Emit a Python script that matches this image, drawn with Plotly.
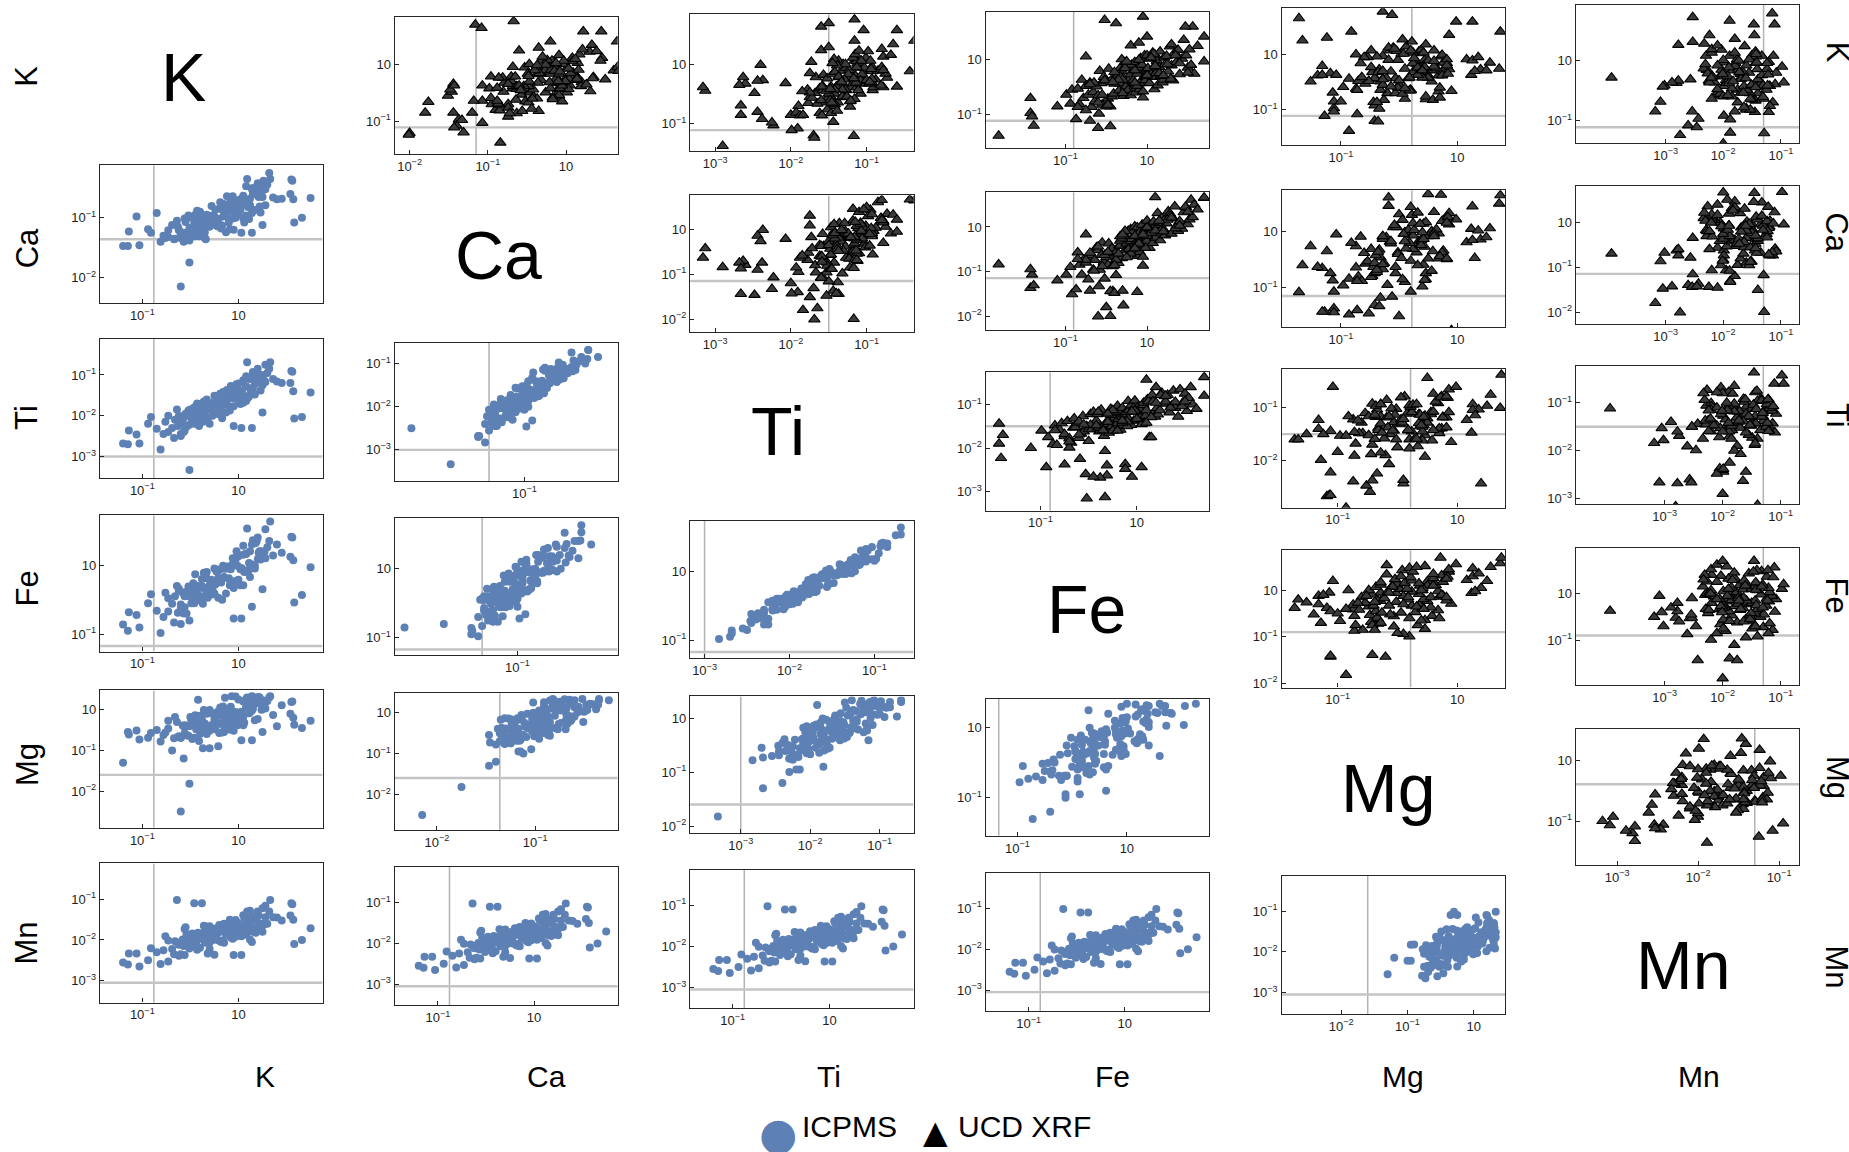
import plotly.graph_objects as go

W, H = 1849, 1152
BLUE = "#5E81B5"
FONT = "Liberation Sans, Arial, Helvetica, sans-serif"

elements = ["K", "Ca", "Ti", "Fe", "Mg", "Mn"]
legend_names = ["ICPMS", "UCD XRF"]

# ---------------- ICPMS samples: log10 concentration (None = not reported) ----------------
icp_K = [
    -1.20, -1.15, -1.14, -1.06, -1.03, -0.94, -0.91, -0.85, -0.81, -0.78,
    -0.76, -0.73, -0.73, -0.69, -0.67, -0.66, -0.63, -0.62, -0.60, -0.60,
    -0.58, -0.56, -0.56, -0.54, -0.52, -0.51, -0.51, -0.49, -0.48, -0.47,
    -0.46, -0.45, -0.44, -0.43, -0.42, -0.41, -0.40, -0.40, -0.38, -0.37,
    -0.36, -0.35, -0.35, -0.33, -0.32, -0.31, -0.30, -0.30, -0.28, -0.27,
    -0.26, -0.25, -0.24, -0.23, -0.22, -0.21, -0.21, -0.19, -0.18, -0.17,
    -0.16, -0.15, -0.15, -0.13, -0.12, -0.12, -0.10, -0.09, -0.08, -0.06,
    -0.06, -0.05, -0.04, -0.03, -0.03, -0.01, 0.00, 0.02, 0.02, 0.03,
    0.03, 0.05, 0.05, 0.06, 0.08, 0.08, 0.09, 0.11, 0.12, 0.12,
    0.14, 0.14, 0.15, 0.17, 0.17, 0.19, 0.20, 0.21, 0.23, 0.24,
    0.25, 0.26, 0.27, 0.28, 0.30, 0.32, 0.33, 0.36, 0.40, 0.45,
    0.55, 0.56, 0.57, 0.58, 0.66, 0.75, -0.60, -0.51, -0.57, 0.54,
    -0.64, -0.46, -0.38, -0.42, -0.14, -0.07, 0.25, 0.14, -0.33, 0.20,
    -0.55, -0.35, -0.15, 0.05, 0.22, -0.45, -0.25, -0.05, 0.12, -0.30,
    -0.50, -0.20, 0.00, 0.18, -0.40, -0.10, 0.08, -0.28, -0.62, 0.28,
    -0.44, -0.16, 0.10, -0.34, -0.02, 0.15, -0.56, -0.22, 0.04, -0.08,
]
icp_Ca = [
    -1.47, -1.47, -1.23, -0.98, -1.46, -1.19, -1.25, -0.92, -1.40, -1.30,
    -1.34, -1.32, -1.21, -1.12, -1.36, -1.35, -1.15, -1.20, -1.28, -1.34,
    -1.30, -1.01, -1.34, -1.26, -0.96, -1.38, -1.17, -1.00, -1.30, -1.24,
    -1.16, -1.31, -1.17, -0.88, -1.16, -1.31, -0.90, -1.27, -1.23, -1.17,
    -0.97, -1.03, -1.34, -1.13, -1.02, -1.13, -1.15, -0.99, -1.02, -0.96,
    -1.03, -0.98, -0.86, -1.02, -1.09, -1.02, -1.04, -0.74, -1.18, -1.13,
    -0.87, -0.87, -0.80, -1.24, -0.91, -0.64, -1.08, -1.19, -0.87, -1.01,
    -0.64, -1.20, -0.96, -0.70, -1.00, -0.86, -0.91, -0.85, -0.87, -1.25,
    -0.68, -0.73, -0.63, -1.08, -0.75, -0.47, -0.35, -1.02, -0.68, -0.82,
    -0.52, -0.92, -0.50, -0.56, -0.87, -0.61, -0.51, -0.65, -0.91, -0.57,
    -0.65, -0.38, -0.48, -0.52, -0.44, -0.25, -0.35, -0.66, -0.69, -0.68,
    -0.36, -0.38, -0.69, -1.08, -1.00, -0.67, -2.15, -1.75, -1.40, -0.60,
    -1.05, -1.10, -0.95, -1.02, -0.85, -0.82, -1.12, -1.25, -0.95, -0.42,
    -1.07, -1.24, -0.77, -1.01, -0.81, -0.95, -1.11, -0.90, -0.79, -1.02,
    -1.17, -0.85, -0.95, -0.60, -1.09, -1.03, -0.96, -0.80, -1.21, -0.79,
    -1.04, -0.98, -0.82, -1.36, -0.74, -0.60, -1.25, -1.14, -0.76, -0.73,
]
icp_Ti = [
    -2.68, -2.70, -2.36, -2.46, -2.68, -2.20, -2.03, -2.32, -2.83, -2.45,
    -2.15, -2.40, -2.00, -2.30, -2.55, -2.10, -2.25, -2.05, -2.45, -2.20,
    -2.12, -2.02, -2.37, -2.27, -1.87, -2.22, -1.97, -2.07, -2.17, -1.82,
    -2.20, -1.95, -2.10, -1.70, -1.90, -2.25, -1.80, -2.05, -1.85, -2.15,
    -1.65, -1.90, -2.10, -1.80, -2.05, -1.85, -2.20, -1.75, -1.70, -2.00,
    -1.91, -1.51, -1.76, -1.71, -1.56, -1.96, -1.81, -1.46, -1.86, -2.06,
    -1.42, -1.72, -1.52, -1.92, -1.62, -1.37, -1.77, -1.87, -1.47, -1.57,
    -1.31, -2.25, -1.41, -1.26, -1.56, -1.51, -1.21, -1.61, -1.71, -2.30,
    -1.38, -1.13, -1.18, -1.58, -1.28, -1.03, -0.69, -1.53, -1.33, -1.48,
    -1.08, -1.33, -0.93, -1.23, -1.48, -1.03, -1.18, -0.98, -1.38, -1.13,
    -1.25, -1.00, -1.15, -0.75, -0.95, -0.85, -0.69, -1.10, -1.16, -1.20,
    -0.90, -0.92, -1.40, -2.07, -2.03, -1.43, -2.50, -3.33, -2.40, -1.20,
    -1.85, -2.00, -1.70, -1.90, -1.50, -1.40, -1.92, -2.30, -1.60, -0.85,
    -1.95, -2.03, -1.57, -1.68, -1.14, -1.78, -1.96, -1.77, -1.10, -1.82,
    -1.85, -1.75, -1.65, -1.10, -2.13, -1.55, -1.64, -1.69, -2.00, -1.17,
    -2.02, -1.59, -1.56, -2.07, -1.23, -1.34, -2.01, -1.73, -1.44, -1.27,
]
icp_Fe = [
    -0.86, -0.95, -0.68, -0.72, -0.90, -0.55, -0.42, -0.66, -0.98, -0.75,
    -0.40, -0.67, -0.48, -0.56, -0.83, -0.45, -0.69, -0.37, -0.62, -0.57,
    -0.40, -0.45, -0.61, -0.70, -0.31, -0.45, -0.44, -0.55, -0.45, -0.26,
    -0.55, -0.29, -0.41, -0.30, -0.31, -0.45, -0.31, -0.51, -0.30, -0.56,
    -0.11, -0.45, -0.45, -0.19, -0.47, -0.32, -0.43, -0.29, -0.30, -0.36,
    -0.42, -0.05, -0.28, -0.09, -0.07, -0.47, -0.19, -0.06, -0.25, -0.50,
    -0.01, -0.17, -0.18, -0.41, -0.05, -0.02, -0.19, -0.29, -0.06, 0.01,
    0.10, -0.77, 0.10, 0.08, -0.23, -0.01, 0.13, -0.06, -0.29, -0.77,
    -0.04, 0.28, 0.15, -0.10, 0.16, 0.17, 0.53, 0.03, 0.01, -0.17,
    0.30, 0.01, 0.36, 0.00, -0.05, 0.35, 0.09, 0.18, 0.08, 0.20,
    0.16, 0.15, 0.19, 0.52, 0.26, 0.35, 0.63, 0.14, 0.30, 0.18,
    0.41, 0.40, 0.07, -0.54, -0.43, -0.03, -0.85, -0.80, -0.70, 0.12,
    -0.30, -0.40, -0.20, -0.35, -0.05, 0.00, -0.35, -0.60, -0.10, 0.40,
    -0.39, -0.34, -0.05, -0.29, 0.20, -0.13, -0.41, -0.33, 0.20, -0.34,
    -0.38, -0.21, -0.21, 0.32, -0.45, -0.20, -0.08, -0.21, -0.34, 0.10,
    -0.47, -0.03, -0.11, -0.43, 0.20, -0.04, -0.43, -0.10, -0.06, -0.03,
]
icp_Mg = [
    -1.30, -0.55, -0.61, -0.51, -0.73, -0.69, -0.57, -0.50, -0.78, -0.62,
    -0.56, -0.46, -0.27, -1.00, -0.70, -0.18, -0.67, -0.65, -0.69, -0.69,
    -0.39, -0.58, -0.39, -0.63, -0.64, -0.40, -0.40, -0.26, -0.72, -0.26,
    -0.69, -0.14, -0.48, -0.19, -0.16, -0.77, -0.35, -0.15, -0.43, -0.95,
    -0.01, -0.46, -0.38, -0.60, -0.45, -0.08, -0.95, -0.52, -0.09, -0.37,
    -0.12, -0.13, -0.48, -0.15, -0.31, -0.35, -0.90, 0.05, -0.14, -0.56,
    0.08, -0.55, -0.08, -0.17, -0.29, -0.09, -0.03, -0.49, -0.35, -0.06,
    -0.21, -0.52, -0.17, 0.32, -0.06, -0.38, 0.25, -0.24, -0.10, -0.75,
    -0.05, 0.20, -0.18, -0.32, 0.26, 0.06, 0.30, -0.09, -0.07, 0.19,
    0.33, -0.02, 0.02, 0.14, -0.26, 0.21, -0.23, 0.31, 0.15, 0.00,
    0.23, 0.08, 0.19, 0.03, 0.21, 0.30, 0.33, -0.13, -0.41, 0.11,
    0.19, 0.20, -0.20, -0.37, -0.45, -0.27, -2.50, -1.82, -1.20, -0.10,
    -0.30, -0.35, -0.25, 0.24, 0.29, 0.33, -0.55, -0.75, -0.10, 0.20,
    -0.39, -0.34, -0.41, -0.38, 0.30, -0.39, -0.25, -0.23, 0.07, -0.01,
    -0.18, -0.57, -0.16, 0.30, -0.60, -0.20, 0.05, -0.38, -0.67, 0.18,
    -0.33, -0.32, 0.09, -0.51, -0.26, 0.13, -0.43, -0.06, -0.28, 0.07,
]
icp_Mn = [
    -2.55, -2.60, -2.33, -2.33, -2.65, -2.50, -2.20, -2.30, -2.59, -2.25,
    -1.91, -2.53, -2.01, -2.22, -2.35, -2.03, -2.07, -2.39, -2.35, -2.06,
    -1.99, -2.01, -2.37, -1.86, -2.06, -2.21, -2.15, -1.97, -1.84, -2.15,
    -1.90, -2.01, -2.10, -2.24, -1.82, -1.94, -1.97, -2.19, -1.87, -1.83,
    -1.65, -2.07, -1.93, -1.90, -2.33, -1.79, -2.22, -1.66, -1.93, -2.00,
    -1.87, -1.82, -1.72, -1.94, -1.83, -1.72, -1.82, -2.03, -2.05, -2.02,
    -1.78, -1.70, -1.60, -1.86, -1.80, -1.78, -1.87, -1.50, -1.94, -1.97,
    -1.70, -2.37, -1.81, -1.92, -1.51, -1.63, -1.58, -1.84, -1.83, -2.37,
    -1.91, -1.39, -1.67, -1.44, -1.43, -1.87, -1.30, -1.56, -1.58, -1.99,
    -1.52, -1.46, -1.42, -1.71, -1.48, -1.52, -1.68, -1.40, -1.60, -1.75,
    -1.22, -1.62, -1.61, -1.16, -1.60, -1.30, -1.02, -1.44, -1.45, -1.52,
    -1.10, -1.12, -1.50, -2.10, -2.00, -1.71, None, None, -2.15, -1.40,
    -1.02, -1.10, -1.10, -1.90, -1.70, -1.65, -1.80, -2.05, -1.75, -1.30,
    -1.69, -2.00, -2.07, -1.62, -1.73, -1.89, -2.36, -1.61, -1.28, -2.06,
    -2.02, -1.63, -1.79, -1.82, -1.86, -1.59, -1.71, -2.00, -2.12, -1.44,
    -2.02, -2.01, -1.72, -1.67, -1.67, -1.80, -1.73, -2.00, -1.80, -1.68,
]

# ---------------- UCD XRF samples: log10 concentration (None = not reported) ----------------
xrf_K = [
    -1.38, -0.97, -1.03, -1.20, -0.70, -0.85, -0.64, -0.80, -0.55, -1.08,
    -0.53, -0.81, -0.37, -0.70, 0.05, -0.48, -0.64, -0.42, -0.86, -0.59,
    -0.76, -0.49, -0.65, -0.21, -0.43, -0.82, -0.32, 0.71, -0.38, -0.71,
    -0.17, -1.21, -0.67, -0.34, -0.62, -0.40, 0.65, -0.29, -0.23, -0.56,
    -0.44, -0.16, -0.21, -0.66, -0.33, -0.05, -0.49, -0.60, -0.38, -0.55,
    -0.16, -0.65, -0.27, -0.10, -0.43, -0.38, -0.05, -0.49, -0.60, -0.21,
    -0.26, -0.15, -0.54, -0.43, 0.02, -0.37, -0.10, 0.77, -0.32, 0.07,
    -0.38, 0.07, -0.21, -0.16, 0.01, -0.43, -0.27, 0.12, -0.32, -0.54,
    0.08, -0.25, -0.03, -0.47, -0.14, 0.14, -0.31, -0.42, 0.03, -0.09,
    0.06, -0.22, 0.23, -0.11, -0.38, 0.12, -0.05, 0.17, -0.27, 0.01,
    0.35, 0.07, -0.15, 0.18, -0.10, 0.59, -0.26, 0.24, 0.41, -0.04,
    -0.38, -0.34, -0.69, -0.85, 0.00, -0.48, -0.92, -0.98, 0.59, -0.31,
    -1.11, -1.24, -0.85, -0.44, -0.37, 0.25, 0.30, 0.41, -0.11, -0.37,
    -0.42, -0.82, -0.37, -0.16, -0.42, -0.30, 0.10, -0.30, -0.35, 0.07,
    -0.86, -0.01, -0.09, -0.41, 0.03, -0.78, -0.07, -0.04, -0.25, -0.58,
    -0.61, -0.12, -0.64, 0.27, -0.20, -0.24, -0.23, -0.29, -0.45, -0.29,
]
xrf_Ca = [
    -0.84, -1.37, -1.07, -1.31, -0.95, -1.20, -1.07, -0.90, -1.51, -1.40,
    -0.57, -0.85, -1.07, -0.74, -0.17, -0.80, -1.18, -0.68, -0.63, -0.96,
    -0.74, -0.46, -0.52, -0.96, -0.63, -0.35, -0.79, -1.16, -0.68, -0.85,
    -0.37, -2.00, -0.48, -1.44, -0.64, -0.59, -1.08, -0.70, -0.81, -0.42,
    -0.42, -0.31, -0.70, -1.76, -0.15, -0.53, -0.26, -0.37, -0.48, -0.09,
    -0.49, -0.05, -0.32, -0.27, -0.10, -0.54, -0.38, 0.01, -0.43, -0.65,
    -0.01, -0.34, -0.12, -0.56, -0.23, 0.05, -0.40, -0.67, -0.07, -0.18,
    -0.03, -0.31, 0.14, -0.20, -0.47, 0.03, -0.14, 0.08, -0.36, -0.09,
    -0.24, 0.04, -0.13, 0.31, 0.09, -0.30, 0.20, -0.08, 0.15, -0.19,
    0.08, 0.35, 0.30, -0.15, 0.19, 0.46, 0.02, -0.09, 0.13, -0.04,
    0.33, 0.44, 0.06, 0.17, 0.61, 0.22, 0.50, 0.39, 0.65, 0.66,
    -0.63, -0.74, -0.87, -1.44, -0.26, -1.46, -0.74, -1.33, 0.45, -0.21,
    -1.43, -2.01, -1.80, -1.48, -1.43, -0.60, -0.35, -0.20, 0.67, -0.05,
    -0.98, -0.56, -0.60, -0.09, -0.20, -0.47, 0.12, -0.08, 0.26, -0.03,
    -0.72, -0.37, 0.16, -0.88, -0.13, -0.44, 0.03, -0.68, 0.14, -0.17,
    -0.17, -0.08, -0.88, 0.21, -0.48, 0.34, -0.86, -0.01, -0.58, -0.10,
]
xrf_Ti = [
    -2.90, -1.44, -2.23, -1.70, -1.90, -2.00, -1.60, -2.44, -1.75, -1.91,
    -1.48, -1.93, -1.58, -1.43, -1.73, -1.68, -1.38, -1.78, -1.88, -1.53,
    -1.52, -1.42, -1.77, -1.67, -1.27, -1.62, -2.60, -1.50, -1.57, -1.22,
    -1.57, -1.17, -1.42, -1.37, -1.22, -1.62, -1.60, -1.12, -1.52, -1.72,
    -3.13, -1.45, -2.63, -1.65, -1.35, -1.10, -1.50, -1.60, -1.20, -1.30,
    -1.18, -1.43, -1.03, -1.33, -1.58, -1.13, -1.28, -1.08, -1.48, -1.23,
    -2.37, -1.17, -1.32, -0.92, -1.12, -1.47, -1.02, -1.16, -1.07, -1.37,
    -0.91, -1.16, -1.36, -1.06, -1.31, -1.11, -2.44, -1.01, -0.96, -1.26,
    -1.13, -0.88, -0.93, -1.75, -1.75, -0.78, -1.18, -1.28, -1.08, -1.23,
    -1.13, -0.73, -0.98, -0.93, -0.78, -1.18, -1.03, -0.68, -1.08, -1.28,
    -0.65, -0.95, -0.75, -1.15, -0.85, -0.60, -1.00, -1.10, -0.37, -0.80,
    -3.16, -2.68, -2.66, -2.66, -2.40, -2.48, -2.38, -2.25, -1.04, -2.07,
    -1.99, -1.69, -1.84, -1.53, -1.40, -1.60, -1.50, -1.16, -0.43, -0.60,
    -1.32, -1.47, -1.59, -1.24, -1.42, -1.14, -1.43, -0.93, -0.81, -1.07,
    -1.59, -1.39, -0.78, -1.48, -1.45, -1.39, -0.94, -1.13, -1.29, -1.16,
    -1.21, -1.42, -1.46, -0.80, -1.37, -0.93, -1.17, -1.33, -1.85, -0.96,
]
xrf_Fe = [
    -1.82, -1.43, -1.41, -1.39, -1.43, -1.10, -0.99, -0.94, -0.92, -0.87,
    -0.85, -0.83, -0.80, -0.78, -0.75, -0.75, -0.72, -0.70, -0.68, -0.66,
    -0.64, -0.62, -0.60, -0.58, -0.56, -0.55, -0.53, -0.52, -0.50, -0.48,
    -0.47, -0.45, -0.43, -0.42, -0.41, -0.39, -0.38, -0.37, -0.35, -0.34,
    -0.33, -0.33, -0.31, -0.29, -0.29, -0.27, -0.26, -0.25, -0.23, -0.23,
    -0.22, -0.20, -0.20, -0.19, -0.17, -0.17, -0.15, -0.15, -0.14, -0.12,
    -0.12, -0.11, -0.09, -0.09, -0.08, -0.06, -0.06, -0.05, -0.03, -0.03,
    -0.02, 0.00, 0.00, 0.01, 0.03, 0.03, 0.05, 0.07, 0.07, 0.09,
    0.10, 0.11, 0.12, 0.13, 0.15, 0.16, 0.18, 0.19, 0.21, 0.22,
    0.24, 0.26, 0.28, 0.30, 0.32, 0.34, 0.36, 0.38, 0.40, 0.43,
    0.45, 0.48, 0.50, 0.52, 0.54, 0.56, 0.58, 0.62, 0.70, 0.70,
    -0.52, -0.38, -0.05, -0.45, -0.31, -0.12, -0.75, -0.59, 0.47, -0.33,
    -0.70, -0.60, -0.50, -0.40, -0.30, -0.20, -0.10, 0.00, 0.10, 0.20,
    -0.65, -0.48, -0.35, -0.27, -0.15, -0.02, 0.08, 0.17, 0.29, 0.35,
    -0.85, -0.10, 0.25, -0.42, 0.05, -0.60, 0.40, -0.25, 0.15, -0.05,
    -0.30, 0.10, -0.55, 0.30, -0.15, 0.50, -0.40, 0.00, -0.70, 0.20,
]
xrf_Mg = [
    -0.93, -1.06, -1.06, -0.71, -0.60, None, -0.40, -0.45, -0.50, -0.86,
    -0.79, -0.27, None, -0.53, -0.33, -0.85, -0.66, None, -0.72, -0.98,
    -0.27, -0.66, -0.40, None, -0.53, -0.21, -0.73, -0.56, None, -0.47,
    -0.35, -0.68, -0.16, None, -0.87, -0.29, -1.36, -0.22, -0.74, None,
    -0.70, -0.38, None, -0.05, -0.31, -0.77, -1.26, -0.51, -0.25, -0.64,
    -0.09, -0.41, -0.67, -0.28, -0.61, None, -0.80, -0.22, -0.15, -1.16,
    -0.45, -0.12, None, -0.71, -0.32, 0.12, -0.51, -0.64, -0.38, -0.58,
    -0.16, -0.74, -0.29, None, -0.48, -0.42, 0.20, -0.55, -0.68, None,
    -0.31, -0.18, -0.64, -0.50, None, -0.44, -0.12, -0.25, -0.38, 0.08,
    -0.52, -0.20, -0.39, 0.13, -0.13, -0.59, 0.18, None, -0.07, -0.46,
    -0.07, -0.40, 0.28, -0.27, -0.59, -0.01, 0.36, None, 0.37, -0.14,
    -1.20, -1.09, -1.07, -1.06, -0.87, -0.76, -0.71, -0.67, 0.13, -0.57,
    -1.14, None, -1.00, -0.93, -1.16, -1.33, -1.12, -0.91, -0.25, -1.04,
    -0.30, -0.63, -0.34, -0.83, -0.41, 0.15, -0.54, -0.64, -0.08, -0.20,
    -0.69, -0.13, -0.09, -0.82, -0.29, -0.15, -0.37, -0.69, -0.32, -0.57,
    -0.45, -0.20, -0.86, -0.47, -0.09, -0.34, -0.28, -0.30, -0.64, 0.25,
]
xrf_Mn = [
    -2.00, -2.43, None, -1.88, -1.75, -1.80, -2.20, -1.60, -1.40, -2.61,
    -2.10, None, -1.95, -1.14, -1.49, None, -1.30, -3.02, -1.45, -2.04,
    -1.19, -1.75, None, -1.55, -1.99, -1.60, -2.57, -2.53, -1.35, None,
    -1.84, -1.29, -1.44, -2.25, None, -1.10, -1.89, -3.94, -1.70, -2.06,
    -1.40, -2.29, -1.65, None, -1.95, -1.79, -1.25, -2.00, None, -1.54,
    -1.74, -1.50, -2.19, None, -1.20, -1.94, -1.44, -1.59, -1.85, -1.08,
    -2.05, -1.24, -1.69, -1.64, None, -2.15, -1.80, -1.15, -1.90, -2.30,
    -1.34, -1.89, None, -2.28, -1.76, -1.19, -1.99, -2.20, -1.40, -1.65,
    -1.50, None, -1.21, -1.85, -2.34, -1.44, -1.71, -1.31, None, -1.60,
    -1.43, -2.27, -1.63, None, -1.90, -1.80, -1.24, -2.03, -2.19, -1.55,
    -1.80, -1.33, -1.41, -2.20, None, -1.11, -1.93, -2.10, -1.46, -2.00,
    -2.81, -2.78, -3.09, -2.54, -2.00, -2.10, -1.99, -1.88, -1.47, -1.69,
    -2.46, -2.75, -3.18, -3.05, -2.89, -2.78, -2.53, -2.24, -0.98, -0.95,
    None, -1.53, -2.24, -2.03, -1.23, None, -1.43, -1.61, -1.83, -1.13,
    -1.21, -1.73, -2.10, -1.51, None, -1.64, -2.31, -1.42, -1.33, -1.92,
    -1.31, -1.90, -1.53, -2.33, -1.72, -1.22, -2.01, -2.21, -1.44, None,
]

# detection limits (log10), drawn as grey reference lines
icp_lod = {"K": -0.88, "Ca": -1.36, "Ti": -3.00, "Fe": -1.17, "Mg": -1.60, "Mn": -3.05}
xrf_lod = {"K": -1.11, "Ca": -1.15, "Ti": -1.50, "Fe": -0.90, "Mg": -0.39, "Mn": -1.30}

icp = {"K": icp_K, "Ca": icp_Ca, "Ti": icp_Ti, "Fe": icp_Fe, "Mg": icp_Mg, "Mn": icp_Mn}
xrf = {"K": xrf_K, "Ca": xrf_Ca, "Ti": xrf_Ti, "Fe": xrf_Fe, "Mg": xrf_Mg, "Mn": xrf_Mn}

# ---------------- layout of the matrix (pixels) ----------------
col_px = {"K": (100.0, 322.6), "Ca": (394.7, 617.7), "Ti": (690.1, 913.6),
          "Fe": (985.6, 1209.0), "Mg": (1281.5, 1505.0), "Mn": (1575.8, 1799.3)}

# (row element, column element, method, element on x, top px, bottom px,
#  x range (log10), y range (log10), x tick exponents, y tick exponents)
# NB: in the original the first four Mn-row panels all show K on the x axis.
panels = [
    ("Ca", "K", "icp", "K", 165.7, 304.0, [-1.44, 0.875], [-2.43, -0.12], [-1, 0], [-2, -1]),
    ("Ti", "K", "icp", "K", 340.0, 479.3, [-1.44, 0.875], [-3.53, -0.12], [-1, 0], [-3, -2, -1]),
    ("Fe", "K", "icp", "K", 516.7, 653.3, [-1.44, 0.875], [-1.25, 0.72], [-1, 0], [-1, 0]),
    ("Mg", "K", "icp", "K", 692.3, 830.0, [-1.44, 0.875], [-2.90, 0.47], [-1, 0], [-2, -1, 0]),
    ("Mn", "K", "icp", "K", 865.7, 1005.3, [-1.44, 0.875], [-3.54, -0.12], [-1, 0], [-3, -2, -1]),
    ("Ti", "Ca", "icp", "Ca", 344.0, 482.3, [-2.32, -0.05], [-3.72, -0.53], [-1], [-3, -2, -1]),
    ("Fe", "Ca", "icp", "Ca", 519.0, 656.7, [-2.25, 0.02], [-1.25, 0.74], [-1], [-1, 0]),
    ("Mg", "Ca", "icp", "Ca", 695.0, 832.3, [-2.43, -0.16], [-2.87, 0.47], [-2, -1], [-2, -1, 0]),
    ("Mn", "Ca", "icp", "K", 869.0, 1008.0, [-1.45, 0.87], [-3.52, -0.12], [-1, 0], [-3, -2, -1]),
    ("Fe", "Ti", "icp", "Ti", 522.0, 660.0, [-3.17, -0.54], [-1.26, 0.73], [-3, -2, -1], [-1, 0]),
    ("Mg", "Ti", "icp", "Ti", 698.3, 835.3, [-3.73, -0.51], [-2.13, 0.40], [-3, -2, -1], [-2, -1, 0]),
    ("Mn", "Ti", "icp", "K", 872.3, 1011.0, [-1.44, 0.87], [-3.51, -0.14], [-1, 0], [-3, -2, -1]),
    ("Mg", "Fe", "icp", "Fe", 700.7, 838.0, [-1.29, 0.75], [-1.54, 0.40], [-1, 0], [-1, 0]),
    ("Mn", "Fe", "icp", "K", 875.0, 1014.0, [-1.45, 0.88], [-3.52, -0.13], [-1, 0], [-3, -2, -1]),
    ("Mn", "Mg", "icp", "Mg", 878.3, 1016.7, [-2.90, 0.47], [-3.53, -0.14], [-2, -1, 0], [-3, -2, -1]),
    ("K", "Ca", "xrf", "Ca", 17.3, 154.3, [-2.19, 0.66], [-1.58, 0.84], [-2, -1, 0], [-1, 0]),
    ("K", "Ti", "xrf", "Ti", 14.3, 151.7, [-3.33, -0.38], [-1.47, 0.86], [-3, -2, -1], [-1, 0]),
    ("K", "Fe", "xrf", "Fe", 11.7, 148.3, [-1.98, 0.76], [-1.60, 0.86], [-1, 0], [-1, 0]),
    ("K", "Mg", "xrf", "Mg", 8.3, 145.7, [-1.51, 0.41], [-1.64, 0.83], [-1, 0], [-1, 0]),
    ("K", "Mn", "xrf", "Mn", 5.0, 143.3, [-4.56, -0.68], [-1.37, 0.91], [-3, -2, -1], [-1, 0]),
    ("Ca", "Ti", "xrf", "Ti", 196.0, 333.3, [-3.33, -0.38], [-2.30, 0.76], [-3, -2, -1], [-2, -1, 0]),
    ("Ca", "Fe", "xrf", "Fe", 192.7, 330.7, [-1.98, 0.76], [-2.31, 0.78], [-1, 0], [-2, -1, 0]),
    ("Ca", "Mg", "xrf", "Mg", 190.7, 328.3, [-1.51, 0.41], [-1.71, 0.74], [-1, 0], [-1, 0]),
    ("Ca", "Mn", "xrf", "Mn", 186.7, 325.0, [-4.56, -0.68], [-2.27, 0.80], [-3, -2, -1], [-2, -1, 0]),
    ("Ti", "Fe", "xrf", "Fe", 373.3, 512.0, [-1.57, 0.75], [-3.44, -0.26], [-1, 0], [-3, -2, -1]),
    ("Ti", "Mg", "xrf", "Mg", 370.0, 509.0, [-1.47, 0.40], [-2.90, -0.26], [-1, 0], [-2, -1]),
    ("Ti", "Mn", "xrf", "Mn", 367.3, 505.7, [-4.53, -0.68], [-3.12, -0.24], [-3, -2, -1], [-3, -2, -1]),
    ("Fe", "Mg", "xrf", "Mg", 551.7, 689.3, [-1.47, 0.40], [-2.09, 0.86], [-1, 0], [-2, -1, 0]),
    ("Fe", "Mn", "xrf", "Mn", 549.3, 686.7, [-4.53, -0.68], [-1.96, 0.98], [-3, -2, -1], [-1, 0]),
    ("Mg", "Mn", "xrf", "Mn", 730.7, 867.3, [-3.51, -0.75], [-1.73, 0.53], [-3, -2, -1], [-1, 0]),
]


def lab(e):
    return "10" if e == 0 else "10<sup>\u2212%d</sup>" % (-e)


def axis_common(rng, exps, dom, anchor):
    return dict(
        type="log", domain=dom, range=rng, anchor=anchor,
        showgrid=False, zeroline=False, showline=True, mirror=True,
        linecolor="#262626", linewidth=1.4,
        ticks="inside", ticklen=4, tickwidth=1, tickcolor="#262626",
        tickmode="array", tickvals=[10.0 ** e for e in exps],
        ticktext=[lab(e) for e in exps],
        tickfont=dict(family=FONT, size=13, color="#1e1e1e"),
        fixedrange=True,
    )


fig = go.Figure()
layout = {}

for i, (row, col, meth, xel, y0, y1, xr, yr, xt, yt) in enumerate(panels, start=1):
    data = icp if meth == "icp" else xrf
    lod = icp_lod if meth == "icp" else xrf_lod
    xs, ys = [], []
    for a, b in zip(data[xel], data[row]):
        if a is None or b is None:
            continue
        xs.append(10.0 ** a)
        ys.append(10.0 ** b)
    sfx = "" if i == 1 else str(i)
    xa, ya = "x" + sfx, "y" + sfx

    # detection-limit lines
    fig.add_trace(go.Scatter(
        x=[10.0 ** lod[xel]] * 2, y=[10.0 ** yr[0], 10.0 ** yr[1]],
        mode="lines", line=dict(color="#b3b3b3", width=1.5),
        xaxis=xa, yaxis=ya, hoverinfo="skip", showlegend=False))
    fig.add_trace(go.Scatter(
        x=[10.0 ** xr[0], 10.0 ** xr[1]], y=[10.0 ** lod[row]] * 2,
        mode="lines", line=dict(color="#c4c4c4", width=2.4),
        xaxis=xa, yaxis=ya, hoverinfo="skip", showlegend=False))

    if meth == "icp":
        marker = dict(symbol="circle", size=8, color=BLUE, line=dict(width=0))
        name = legend_names[0]
    else:
        marker = dict(symbol="triangle-up", size=10, color="#3a3a3a",
                      line=dict(color="#000000", width=1.1))
        name = legend_names[1]
    fig.add_trace(go.Scatter(
        x=xs, y=ys, mode="markers", marker=marker, name=name,
        xaxis=xa, yaxis=ya, showlegend=False))

    cx0, cx1 = col_px[col]
    layout["xaxis" + sfx] = axis_common(xr, xt, [cx0 / W, cx1 / W], ya)
    layout["yaxis" + sfx] = axis_common(yr, yt, [1 - y1 / H, 1 - y0 / H], xa)

annotations = []


def add_text(text, px, py, size, angle=0, xanchor="center", color="#000", family=FONT):
    annotations.append(dict(
        text=text, x=px / W, y=1 - py / H, xref="paper", yref="paper",
        xanchor=xanchor, yanchor="middle", showarrow=False, textangle=angle,
        font=dict(family=family, size=size, color=color)))


diag_pos = {"K": (183, 77), "Ca": (498, 256), "Ti": (778, 432),
            "Fe": (1086, 611), "Mg": (1388, 790), "Mn": (1683, 968)}
left_y = {"K": 77, "Ca": 249, "Ti": 419, "Fe": 590, "Mg": 767, "Mn": 946}
right_y = {"K": 52, "Ca": 233, "Ti": 416, "Fe": 597, "Mg": 779, "Mn": 969}
bottom_x = {"K": 265, "Ca": 546, "Ti": 829, "Fe": 1112, "Mg": 1403, "Mn": 1699}

for el in elements:
    add_text(el, diag_pos[el][0], diag_pos[el][1], 68)
    add_text(el, 27, left_y[el], 31, angle=-90)
    add_text(el, 1837, right_y[el], 31, angle=90)
    add_text(el, bottom_x[el], 1079, 30)

# legend
add_text("\u25CF", 778, 1136, 44, color=BLUE, family="DejaVu Sans")
add_text(legend_names[0], 800, 1129, 30, xanchor="left")
add_text("\u25B2", 935, 1135, 32, color="#000", family="DejaVu Sans")
add_text(legend_names[1], 956, 1129, 30, xanchor="left")

fig.update_layout(
    width=W, height=H, margin=dict(l=0, r=0, t=0, b=0, pad=0),
    paper_bgcolor="white", plot_bgcolor="white", showlegend=False,
    font=dict(family=FONT, color="#000"), annotations=annotations,
    **layout)

fig.write_html("out.html", config={"displayModeBar": False},
               post_script="document.body.style.margin='0';document.body.style.overflow='hidden';")
